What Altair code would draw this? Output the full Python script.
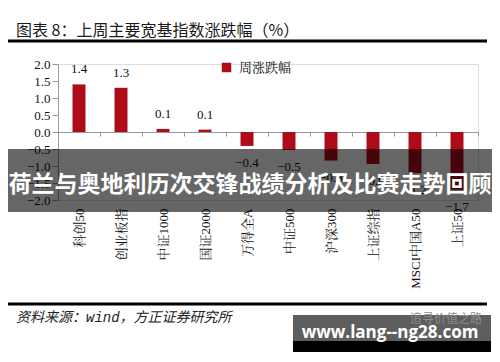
import altair as alt
import pandas as pd

categories = ["科创50", "创业板指", "中证1000", "国证2000", "万得全A",
              "中证500", "沪深300", "上证综指", "MSCI中国A50", "上证50"]
values = [1.40, 1.30, 0.09, 0.07, -0.41, -0.53, -0.84, -0.94, -1.21, -1.70]
series_name = "周涨跌幅"
y_ticks = [-2.0, -1.5, -1.0, -0.5, 0.0, 0.5, 1.0, 1.5, 2.0]
title_text = "图表 8：上周主要宽基指数涨跌幅（%）"
source_text = "资料来源：wind，方正证券研究所"
banner_text = "荷兰与奥地利历次交锋战绩分析及比赛走势回顾"
watermark_text = "www.lang--ng28.com"
wechat_text = "追寻价值之路"

df = pd.DataFrame({"cat": categories, "val": values, "series": [series_name] * len(values)})

SERIF = "Liberation Serif, Noto Serif CJK SC, Noto Sans CJK SC"
SANS = "Noto Sans CJK SC"
RED = "#AD0C18"

x_enc = alt.X(
    "cat:N", sort=categories,
    scale=alt.Scale(paddingInner=0, paddingOuter=0),
    axis=alt.Axis(title=None, orient="bottom", offset=-68, labelAngle=270,
                  labelPadding=72, labelFont=SERIF, labelFontSize=13,
                  labelColor="#111", domainColor="#999", tickColor="#999",
                  tickSize=4, tickBand="extent", zindex=0, labelOverlap=False),
)
y_enc = alt.Y(
    "val:Q",
    scale=alt.Scale(domain=[-2, 2], nice=False, zero=False),
    axis=alt.Axis(title=None, values=y_ticks, format=".1f", labelFont=SERIF,
                  labelFontSize=13, labelColor="#111", domainColor="#999",
                  tickColor="#999", tickSize=6, labelPadding=2, grid=False, zindex=0),
)

bars = alt.Chart(df).mark_bar(size=13).encode(
    x=x_enc, y=y_enc, y2=alt.datum(0),
    color=alt.Color("series:N", scale=alt.Scale(range=[RED]),
                    legend=alt.Legend(title=None, orient="none", legendX=162, legendY=-3,
                                      symbolType="square", symbolSize=90,
                                      symbolStrokeWidth=0, padding=0,
                                      labelFont=SERIF, labelFontSize=13,
                                      labelColor="#111", labelOffset=6)),
)

pos_labels = alt.Chart(df).transform_filter("datum.val >= 0").mark_text(
    baseline="alphabetic", dy=-11, font=SERIF, fontSize=13, color="#111"
).encode(x=x_enc, y=y_enc, text=alt.Text("val:Q", format=".1f"))

neg_labels = alt.Chart(df).transform_filter("datum.val < 0").mark_text(
    baseline="alphabetic", dy=21, font=SERIF, fontSize=13, color="#111"
).encode(x=x_enc, y=y_enc, text=alt.Text("val:Q", format=".1f"))

one = pd.DataFrame({"a": [0]})

title_mark = alt.Chart(pd.DataFrame({"t": [title_text]})).mark_text(
    align="left", baseline="middle", font=SANS, fontSize=16, color="#1a1a1a"
).encode(x=alt.value(-42), y=alt.value(-33), text="t:N")

top_rule = alt.Chart(one).mark_rule(color="#000", strokeWidth=3).encode(
    x=alt.value(-52), x2=alt.value(429), y=alt.value(-23))
bottom_rule = alt.Chart(one).mark_rule(color="#000", strokeWidth=3).encode(
    x=alt.value(-52), x2=alt.value(429), y=alt.value(240))

source_mark = alt.Chart(pd.DataFrame({"t": [source_text]})).mark_text(
    align="left", baseline="middle", font="Liberation Mono, Noto Sans CJK SC",
    fontSize=14, fontStyle="italic", color="#222"
).encode(x=alt.value(-42), y=alt.value(254), text="t:N")

banner = alt.Chart(one).mark_rect(color="#000", opacity=0.6).encode(
    x=alt.value(-50), x2=alt.value(434), y=alt.value(85), y2=alt.value(148))
banner_txt = alt.Chart(pd.DataFrame({"t": [banner_text]})).mark_text(
    align="center", baseline="middle", font=SANS, fontSize=23, fontWeight="bold", color="#fff"
).encode(x=alt.value(192), y=alt.value(121), text="t:N")

wm_gray = alt.Chart(one).mark_rect(color="#5e5e5e").encode(
    x=alt.value(235), x2=alt.value(433), y=alt.value(251), y2=alt.value(277))
wm_black = alt.Chart(one).mark_rect(color="#000").encode(
    x=alt.value(235), x2=alt.value(433), y=alt.value(277), y2=alt.value(288))
wm_wechat = alt.Chart(pd.DataFrame({"t": [wechat_text]})).mark_text(
    align="left", baseline="middle", font=SANS, fontSize=12, color="#8c8c8c"
).encode(x=alt.value(352), y=alt.value(255), text="t:N")
wm_txt = alt.Chart(pd.DataFrame({"t": [watermark_text]})).mark_text(
    align="center", baseline="alphabetic", font="Open Sans", fontSize=17,
    fontWeight="bold", color="#fff"
).encode(x=alt.value(332), y=alt.value(274), text="t:N")

chart = alt.layer(
    bars, pos_labels, neg_labels, title_mark, top_rule, bottom_rule, source_mark,
    banner, banner_txt, wm_gray, wm_black, wm_wechat, wm_txt
).properties(
    width=420, height=136,
    autosize=alt.AutoSizeParams(type="none"),
    padding={"left": 50, "top": 56, "right": 14, "bottom": 154},
).configure_view(stroke=None).configure(background="#ffffff")

chart.save("out.html", embed_options={"renderer": "svg", "actions": False})
